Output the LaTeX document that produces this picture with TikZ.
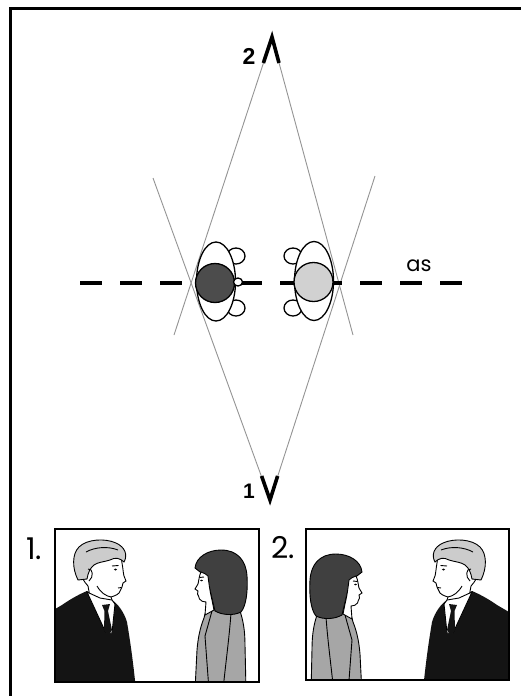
\documentclass[tikz,border=0pt]{standalone}
\usepackage{fontspec}
\setmainfont{Poppins}
\newfontfamily\digitfont{Liberation Sans}
\begin{document}
\begin{tikzpicture}[x=1pt,y=-1pt,
  sightline/.style={draw=black!42, line width=0.9pt},
  axisline/.style={line width=4.6pt, dash pattern=on 22pt off 18pt},
  headring/.style={draw, line width=1.3pt, fill=white},
  chevron/.style={line width=3.6pt, line join=miter, miter limit=20},
  panelframe/.style={draw, line width=2.2pt},
  skin/.style={draw, line width=0.9pt, fill=white},
  outline/.style={line width=0.9pt},
  suitblack/.style={fill=black!92},
  manhair/.style={draw, line width=0.9pt, fill=black!20},
  womanhair/.style={draw, line width=0.9pt, fill=black!75},
  jacket/.style={draw, line width=0.9pt, fill=black!35},
  manfig/.pic={
    % suit
    \fill[suitblack] (50,612) -- (62,605) .. controls (72,598) and (80,594) .. (87,591)
      -- (100,598) -- (112,600) .. controls (118,604) and (124,612) .. (127,622)
      .. controls (130,640) and (133,660) .. (136,690) -- (50,690) -- cycle;
    % head and neck
    \draw[skin] (90,597) -- (88,586) .. controls (84,582) and (80,575) .. (80,565)
      .. controls (80,552) and (95,546) .. (110,548) .. controls (118,550) and (122,556) .. (122,563)
      .. controls (123,568) and (123,572) .. (124,576) -- (126,581) -- (123,583) -- (122,587)
      .. controls (121,590) .. (119,593) .. controls (116,596) and (113,596) .. (111,597)
      -- (113,603) -- cycle;
    % shirt collar
    \draw[skin] (87,592) -- (106,633) -- (112,633) -- (115,604) -- (112,600) -- (100,598) -- cycle;
    % tie
    \fill[suitblack] (102,605) -- (110,604) -- (108,611) -- (112,630) -- (108,636)
      -- (104,630) -- (104.5,611) -- cycle;
    % hair
    \draw[manhair] (78,580) .. controls (72,568) and (72,554) .. (79,547)
      .. controls (87,539) and (105,538) .. (116,543) .. controls (125,547) and (128,555) .. (124,562)
      .. controls (120,558) and (115,557) .. (110,560) .. controls (104,562) and (98,562) .. (94,565)
      .. controls (90,568) and (88,573) .. (87,579) -- cycle;
    \draw[outline] (86,552) .. controls (95,547) and (108,546) .. (118,550);
    % ear, eye, brow, mouth
    \draw[outline] (88,569) .. controls (93,568) and (94,577) .. (89,581);
    \fill (115.5,569.5) ellipse [x radius=1.6pt, y radius=1pt];
    \draw[outline] (112,566) -- (118.5,565.5);
    \draw[outline] (118,588) -- (121.5,587.5);
    \draw[outline] (97,586) .. controls (101,593) and (106,596) .. (111,597);
  },
  womanfig/.pic={
    % jacket
    \draw[jacket] (205,614) -- (215,608) .. controls (224,604) and (234,605) .. (240,611)
      .. controls (243,620) and (245,630) .. (245,645) -- (246,690) -- (195,690)
      -- (197,650) .. controls (198,638) and (200,628) .. (204,618) -- cycle;
    \draw[outline] (212,611) -- (205,636) -- (209,690);
    \draw[outline] (231,613) .. controls (229,640) and (226,660) .. (223,690);
    % hair
    \draw[womanhair] (195,568) .. controls (196,557) and (208,550) .. (221,550)
      .. controls (237,550) and (246,560) .. (247,576) .. controls (248,592) and (246,606) .. (241,612)
      .. controls (233,616) and (222,615) .. (215,611) -- (210,590) -- (206,577)
      .. controls (203,574) and (200,572) .. (195,568) -- cycle;
    % face and neck
    \draw[skin] (201,572) .. controls (199,576) and (199,580) .. (198,584) -- (195,589)
      -- (198,591) -- (197.5,594) -- (198.5,596) -- (199.5,599)
      .. controls (201,601) and (203,602) .. (206,602) -- (205,615) -- (214,610)
      -- (212,600) .. controls (210,592) and (209,584) .. (208,576)
      .. controls (206,574) and (204,573) .. (201,572) -- cycle;
    \fill (201.5,580.5) ellipse [x radius=1.4pt, y radius=0.9pt];
    \draw[outline] (199.5,577.5) -- (204,577);
  }
]
\useasboundingbox (0,0) rectangle (521,696);
\fill[white] (0,0) rectangle (521,696);

% outer frame (open at right and bottom)
\draw[line width=2.6pt] (10.5,696) -- (10.5,8.5) -- (521,8.5);

% key points of the sight lines
\coordinate (T) at (272,37);
\coordinate (B) at (270,500);
\coordinate (endTL) at (174,335);
\coordinate (endTR) at (353,335);
\coordinate (endBL) at (153,178);
\coordinate (endBR) at (375,176);
\coordinate (lamL) at (263.4,63);
\coordinate (lamR) at (279,63);
\coordinate (vL) at (261.6,476);
\coordinate (vR) at (277.6,476);

% sight lines
\draw[sightline] (T) -- (endTL);
\draw[sightline] (T) -- (endTR);
\draw[sightline] (B) -- (endBL);
\draw[sightline] (B) -- (endBR);

% camera marks
\draw[chevron] (lamL) -- (T) -- (lamR);
\draw[chevron] (vL) -- (B) -- (vR);
\node[font=\digitfont\bfseries\fontsize{23}{23}\selectfont] (lbl2) at (249,56) {2};
\node[font=\digitfont\bfseries\fontsize{21}{21}\selectfont] (lbl1) at (249,491) {1};

% axis of action
\coordinate (axisL) at (80,283);
\coordinate (axisR) at (462,283);
\draw[axisline] (axisL) -- (axisR);
\node[font=\fontsize{21}{21}\selectfont, inner sep=0pt] (aslbl) at (419,266) {as};

% left person, seen from above
\draw[headring] (236,256) ellipse [x radius=9pt, y radius=8pt];
\draw[headring] (236,308) ellipse [x radius=9pt, y radius=8pt];
\draw[headring] (216,281.5) ellipse [x radius=19.5pt, y radius=39.5pt];
\draw[line width=1.3pt, fill=black!70] (215,283) circle [radius=19.5pt];
\draw[headring] (238,282) ellipse [x radius=4.5pt, y radius=4pt];

% right person, seen from above
\draw[headring] (293,256) ellipse [x radius=9pt, y radius=8pt];
\draw[headring] (293,308) ellipse [x radius=9pt, y radius=8pt];
\draw[headring] (314,281) ellipse [x radius=19.5pt, y radius=39.5pt];
\draw[line width=1.3pt, fill=black!18] (313.5,282) circle [radius=19.5pt];

% shot 1
\begin{scope}
  \clip (55,529) rectangle (259,682);
  \pic {manfig};
  \pic {womanfig};
\end{scope}
\draw[panelframe] (55,529) rectangle (259,682);
\node[font=\fontsize{30}{30}\selectfont] (shot1) at (34,549) {1.};

% shot 2, mirrored
\begin{scope}
  \clip (306,529) rectangle (509,680);
  \pic[xscale=-1] at (559,0) {manfig};
  \pic[xscale=-1] at (557,4) {womanfig};
\end{scope}
\draw[panelframe] (306,529) rectangle (509,680);
\node[font=\fontsize{30}{30}\selectfont] (shot2) at (283,548) {2.};
\end{tikzpicture}
\end{document}
